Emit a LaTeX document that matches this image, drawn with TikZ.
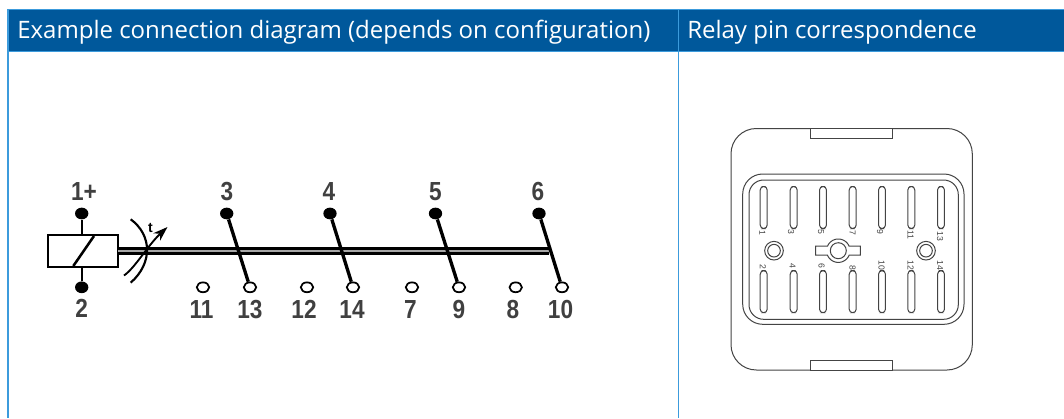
\documentclass[tikz,border=0pt]{standalone}
\usepackage{fontspec}
\setmainfont{Open Sans}
\newfontfamily\lab{Liberation Sans}
\usetikzlibrary{arrows.meta,shapes.geometric}
\definecolor{hdr}{HTML}{00589B}
\definecolor{hline}{HTML}{3C9BDC}
\definecolor{devc}{HTML}{444444}
\tikzset{
 x=0.75pt,y=-0.75pt,
 hdrtext/.style={text=white,anchor=base west,inner sep=0,font=\fontsize{18}{20}\selectfont},
 num/.style={inner sep=0,font=\lab\bfseries\fontsize{17.5}{18}\selectfont,text=black!75,anchor=base,xscale=0.97,yscale=1.12},
 fillpin/.style={ellipse,fill=black,draw=none,minimum width=10pt,minimum height=8.8pt,inner sep=0},
 openpin/.style={ellipse,draw=black,line width=1.3pt,minimum width=9.3pt,minimum height=7.4pt,inner sep=0},
 wire/.style={line width=1.8pt,black},
 contact/.style={line width=2.5pt,black},
 thin wire/.style={black,line width=1.6pt},
 dev/.style={devc,line width=0.75pt},
 slot/.style={draw=devc,line width=0.75pt,rounded corners=2.6pt,minimum width=5.2pt,minimum height=31.5pt,inner sep=0},
 pinno/.style={inner sep=0,font=\lab\fontsize{6.5}{7}\selectfont,text=devc,rotate=-90}
}
\begin{document}
\begin{tikzpicture}
\useasboundingbox (0,0) rectangle (1064,418);
\fill[white] (0,0) rectangle (1064,418);
\fill[hdr] (8,9) rectangle (1064,52);
\draw[hline,line width=0.9pt] (8,9.5) -- (1064,9.5);
\draw[hline,line width=0.9pt] (8,51.7) -- (1064,51.7);
\draw[hline,line width=0.9pt] (8,9) -- (8,418);
\draw[hline,line width=0.75pt] (678.5,9) -- (678.5,418);
\node[hdrtext] (h1) at (17,38) {Example connection diagram (depends on configuration)};
\node[hdrtext] (h2) at (687,38) {Relay pin correspondence};
% coil
\node[draw=black,line width=1.7pt,minimum width=52pt,minimum height=23.5pt,inner sep=0] (coil) at (83,251) {};
\draw[thin wire,line width=1.9pt] (73.3,266) -- (94,236);
\node[fillpin] (p1) at (81.7,213.5) {};
\node[fillpin] (p2) at (81.7,287.3) {};
\draw[thin wire] (p1) -- (coil.north -| p1);
\draw[thin wire] (p2) -- (coil.south -| p2);
\node[num] (l1) at (84,200) {1+};
\node[num] (l2) at (81.7,317.5) {2};
% shaft
\draw[black!35,line width=2pt] (118,251) -- (549,251);
\draw[wire] (118,248.5) -- (549,248.5);
\draw[wire] (118,253.5) -- (549,253.5);
% timed
\draw[thin wire] (130.7,219.3) .. controls (152,235) and (153,263) .. (130.7,282.7);
\coordinate (ts) at (124,275.5);
\coordinate (te) at (167.5,227);
\draw[black,line width=1.4pt,-{Stealth[length=11pt,width=7.5pt]}] (ts) .. controls (135,268) and (148,245) .. (te);
\node[inner sep=0,font=\lab\bfseries\fontsize{10.5}{10}\selectfont,text=black] (tl) at (150.5,228) {t};
% contacts
\foreach \n/\a/\b/\la/\lb/\ax/\bx in {c3/226.7/250/3/13/227/250,c4/330/353/4/14/329/352,c5/435.5/459/5/9/435.5/459,c6/539/562/6/10/538/560.5}{
 \node[fillpin] (\n t) at (\a,213.5) {};
 \node[openpin] (\n b) at (\b,287.3) {};
 \draw[contact] (\n t) -- (\n b);
 \node[num] (\n lt) at (\ax,200) {\la};
 \node[num] (\n lb) at (\bx,318) {\lb};
}
\foreach \n/\x/\tx/\lb in {o11/203/201.5/11,o12/307/304/12,o7/412/410.5/7,o8/515.7/513/8}{
 \node[openpin] (\n) at (\x,287.3) {};
 \node[num] (\n l) at (\tx,318) {\lb};
}
% relay body
\draw[dev,rounded corners=19pt] (731,128.5) rectangle (972.3,370);
\draw[dev,fill=white] (810.3,128.5) rectangle (892.7,138.3);
\draw[dev,fill=white] (810.3,360) rectangle (892.7,370);
\draw[dev,rounded corners=15pt] (742.7,174) rectangle (964,324.3);
\draw[dev,rounded corners=11pt] (749,180) rectangle (958.3,319.3);
% slots
\foreach \n/\x/\t/\tx/\ty in {a/763.7/1/762.3/232.7,b/793.7/3/791/232,c/823/5/821/232,d/852.7/7/852.7/233,e/882/9/880/231.5,f/911.3/11/910.7/235,g/941/13/940/236.7}{
 \node[slot] (s\n) at (\x,207.5) {};
 \node[pinno] (t\n) at (\tx,\ty) {\t};
}
\foreach \n/\x/\t/\tx/\ty in {a/763.7/2/763/266.7,b/793.7/4/792.7/266,c/823/6/821.7/266,d/852.7/8/852.7/267.5,e/882/10/881.7/265,f/911.3/12/910.7/265.5,g/941/14/940/265.5}{
 \node[slot] (u\n) at (\x,291.7) {};
 \node[pinno] (v\n) at (\tx,\ty) {\t};
}
% guide circles
\foreach \n/\x in {cl/774,cr/926}{
 \node[circle,draw=devc,line width=0.75pt,minimum size=14pt,inner sep=0] (\n o) at (\x,250.7) {};
 \node[circle,draw=devc,line width=0.75pt,minimum size=9.5pt,inner sep=0] (\n i) at (\x,250.7) {};
}
% key
\draw[dev] (815.7,246.2)
  -- plot[domain=157.4:22.6,samples=30] ({838.3+11.7*cos(\x)},{250.7-11.7*sin(\x)})
  -- (860.3,246.2) -- (860.3,255.2)
  -- plot[domain=-22.6:-157.4,samples=30] ({838.3+11.7*cos(\x)},{250.7-11.7*sin(\x)})
  -- (815.7,255.2) -- cycle;
\node[circle,draw=devc,line width=0.75pt,minimum size=12pt,inner sep=0] (keyc) at (838.3,250.7) {};
\end{tikzpicture}
\end{document}
